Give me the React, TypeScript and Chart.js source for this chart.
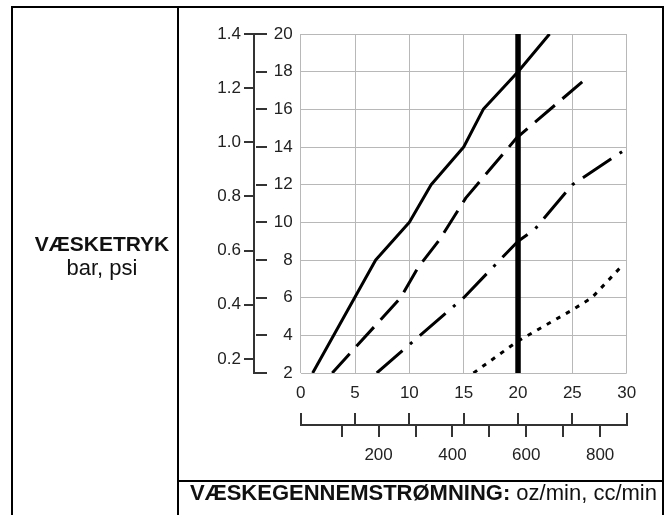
import React, { useEffect, useRef } from 'react';
import { Chart, registerables } from 'chart.js';

Chart.register(...registerables);

// ---- tick values ----
const flowTicksOz = [0, 5, 10, 15, 20, 25, 30];
const flowTicksCc = [100, 200, 300, 400, 500, 600, 700, 800];
const flowLabelsCc = [200, 400, 600, 800];
const pressureTicksPsi = [2, 4, 6, 8, 10, 12, 14, 16, 18, 20];
const pressureTicksBar = [0.2, 0.4, 0.6, 0.8, 1.0, 1.2, 1.4];

// ---- axis ranges ----
const ozRange = [0, 30];
const psiRange = [2, 20];
const barRange = [0.148, 1.4];
const ccRange = [-11, 872];

// ---- series (flow oz/min, pressure psi) ----
const solidFlow = [1.1, 6.9, 10, 12, 15, 16.8, 20, 22.9];
const solidPressure = [2, 8, 10, 12, 14, 16, 18, 20];

const dashFlow = [2.9, 9.2, 10.8, 12.8, 15.2, 19.9, 26.6];
const dashPressure = [2, 6, 7.6, 9.1, 11.3, 14.5, 17.8];

const dashDotFlow = [7, 15, 20, 21.5, 25, 29.7];
const dashDotPressure = [2, 6, 9, 9.6, 12, 13.8];

const dotFlow = [15.9, 20, 25, 26.8, 29.5];
const dotPressure = [2, 3.7, 5.35, 6, 7.65];

const markerFlow = [20, 20];
const markerPressure = [2, 20];

const FONT = '"Liberation Sans", Arial, Helvetica, sans-serif';
const AXIS = '#333333';
const GRID = '#b8b8b8';
const TEXT = '#222222';

const pts = (xs: number[], ys: number[]) => xs.map((x, i) => ({ x, y: ys[i] }));

const axisMarks = {
  id: 'axisMarks',
  afterDraw(chart: any) {
    const { ctx, scales } = chart;
    const y = scales.y, bar = scales.bar, x = scales.x, cc = scales.cc;
    ctx.save();
    ctx.strokeStyle = AXIS;
    ctx.lineWidth = 2;
    const ax = bar.right;
    pressureTicksPsi.forEach((v, i) => {
      const py = Math.round(y.getPixelForValue(v));
      const end = i === 0 || i === pressureTicksPsi.length - 1;
      ctx.beginPath();
      ctx.moveTo(ax + (end ? -1 : 2), py);
      ctx.lineTo(ax + 13, py);
      ctx.stroke();
    });
    flowTicksOz.forEach((v) => {
      const px = Math.round(x.getPixelForValue(v));
      ctx.beginPath();
      ctx.moveTo(px, cc.top + 1);
      ctx.lineTo(px, cc.top - 12);
      ctx.stroke();
    });
    ctx.restore();
  },
};

const noPad = (s: any) => {
  s.paddingLeft = 0;
  s.paddingRight = 0;
  s.paddingTop = 0;
  s.paddingBottom = 0;
};

export default function App() {
  const ref = useRef<HTMLCanvasElement>(null);

  useEffect(() => {
    if (!ref.current) return;
    const line = (xs: number[], ys: number[], dash: number[], width = 3) => ({
      data: pts(xs, ys),
      borderColor: '#000',
      borderWidth: width,
      borderDash: dash,
      borderJoinStyle: 'round',
      pointRadius: 0,
      fill: false,
      tension: 0,
      xAxisID: 'x',
      yAxisID: 'y',
    });
    const chart = new Chart(ref.current, {
      type: 'line',
      data: {
        datasets: [
          line(solidFlow, solidPressure, []),
          line(dashFlow, dashPressure, [26, 10]),
          line(dashDotFlow, dashDotPressure, [34, 10, 3, 10]),
          line(dotFlow, dotPressure, [4.5, 6.5]),
          line(markerFlow, markerPressure, [], 5.5),
        ] as any,
      },
      options: {
        responsive: false,
        animation: false,
        devicePixelRatio: 1,
        layout: { autoPadding: false, padding: { left: 190, top: 34, right: 44.3, bottom: 45 } },
        plugins: { legend: { display: false }, tooltip: { enabled: false } },
        scales: {
          x: {
            type: 'linear',
            position: 'bottom',
            weight: 1,
            min: ozRange[0],
            max: ozRange[1],
            afterBuildTicks: (s: any) => { s.ticks = flowTicksOz.map((v) => ({ value: v })); },
            grid: { color: GRID, lineWidth: 1, drawTicks: false },
            border: { display: false },
            ticks: { color: TEXT, font: { family: FONT, size: 17 }, padding: 10, maxRotation: 0, autoSkip: false },
            afterFit: (s: any) => { s.height = 52; noPad(s); },
          },
          cc: {
            type: 'linear',
            position: 'bottom',
            weight: 2,
            min: ccRange[0],
            max: ccRange[1],
            afterBuildTicks: (s: any) => { s.ticks = flowTicksCc.map((v) => ({ value: v })); },
            grid: { drawOnChartArea: false, drawTicks: true, tickLength: 12, color: AXIS, lineWidth: 2 },
            border: { display: true, color: AXIS, width: 2 },
            ticks: {
              color: TEXT,
              font: { family: FONT, size: 17 },
              padding: 8,
              maxRotation: 0,
              autoSkip: false,
              callback: (v: any) => (flowLabelsCc.includes(Number(v)) ? String(v) : ''),
            },
            afterFit: (s: any) => { s.height = 45; noPad(s); },
          },
          y: {
            type: 'linear',
            position: 'left',
            weight: 1,
            min: psiRange[0],
            max: psiRange[1],
            afterBuildTicks: (s: any) => { s.ticks = pressureTicksPsi.map((v) => ({ value: v })); },
            grid: { color: GRID, lineWidth: 1, drawTicks: false },
            border: { display: false },
            ticks: { color: TEXT, font: { family: FONT, size: 17 }, padding: 8, autoSkip: false },
            afterFit: (s: any) => { s.width = 46.7; noPad(s); },
          },
          bar: {
            type: 'linear',
            position: 'left',
            weight: 2,
            min: barRange[0],
            max: barRange[1],
            afterBuildTicks: (s: any) => { s.ticks = pressureTicksBar.map((v) => ({ value: v })); },
            grid: { drawOnChartArea: false, drawTicks: true, tickLength: 10, color: AXIS, lineWidth: 2 },
            border: { display: true, color: AXIS, width: 2 },
            ticks: {
              color: TEXT,
              font: { family: FONT, size: 17 },
              padding: 3,
              autoSkip: false,
              callback: (v: any) => Number(v).toFixed(1),
            },
            afterFit: (s: any) => { s.width = 64; noPad(s); },
          },
        },
      } as any,
      plugins: [axisMarks],
    });
    return () => chart.destroy();
  }, []);

  const bar = (l: number, t: number, w: number, h: number) => (
    <div style={{ position: 'absolute', left: l, top: t, width: w, height: h, background: '#000' }} />
  );

  return (
    <div style={{ position: 'fixed', left: 0, top: 0, width: 671, height: 515, background: '#fff', overflow: 'hidden', fontFamily: FONT, color: '#111' }}>
      <canvas ref={ref} width={671} height={515} style={{ position: 'absolute', left: 0, top: 0, width: 671, height: 515 }} />
      {bar(11, 6, 653, 2)}
      {bar(11, 6, 2, 520)}
      {bar(662, 6, 2, 520)}
      {bar(177, 6, 2, 520)}
      {bar(177, 480, 487, 2)}
      <div style={{ position: 'absolute', left: 20, width: 164, top: 233, textAlign: 'center', fontSize: 21, lineHeight: '21px', fontWeight: 'bold', whiteSpace: 'nowrap' }}>
        VÆSKETRYK
      </div>
      <div style={{ position: 'absolute', left: 20, width: 164, top: 257, textAlign: 'center', fontSize: 22, lineHeight: '22px', whiteSpace: 'nowrap' }}>
        bar, psi
      </div>
      <div style={{ position: 'absolute', left: 190, top: 482, fontSize: 22, lineHeight: '22px', whiteSpace: 'nowrap' }}>
        <b>VÆSKEGENNEMSTRØMNING:</b> oz/min, cc/min
      </div>
    </div>
  );
}
